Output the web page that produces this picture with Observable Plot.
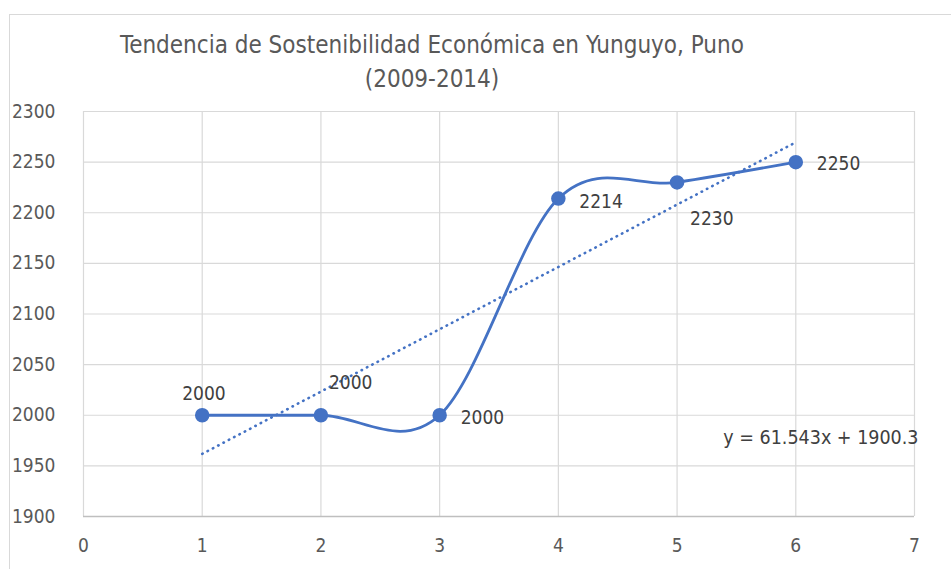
<!DOCTYPE html>
<html>
<head>
<meta charset="utf-8">
<script src="https://cdn.jsdelivr.net/npm/d3@7"></script>
<script src="https://cdn.jsdelivr.net/npm/@observablehq/plot@0.6"></script>
<style>
  html, body { margin: 0; padding: 0; background: #ffffff; }
  #wrap { position: relative; width: 951px; height: 569px; overflow: hidden; font-family: "DejaVu Sans Condensed", "DejaVu Sans", sans-serif; }
  #frame { position: absolute; left: 9px; top: 14px; width: 960px; height: 600px; border: 1px solid #d9d9d9; box-sizing: border-box; pointer-events: none; }
  #title { width: 864px; height: 90px; box-sizing: border-box; padding-top: 28px; text-align: center; color: #595959; font-size: 24px; line-height: 34px; }
  #chart svg { display: block; }
</style>
</head>
<body>
<div id="wrap">
  <div id="frame"></div>
  <div id="title"></div>
  <div id="chart"></div>
</div>
<script>
// ---- data ----
const titleLines = ["Tendencia de Sostenibilidad Económica en Yunguyo, Puno", "(2009-2014)"];
const periods = [1, 2, 3, 4, 5, 6];
const values = [2000, 2000, 2000, 2214, 2230, 2250];
const xTicks = [0, 1, 2, 3, 4, 5, 6, 7];
const yTicks = [1900, 1950, 2000, 2050, 2100, 2150, 2200, 2250, 2300];
const trendSlope = 61.543;
const trendIntercept = 1900.3;
const equationLabel = "y = 61.543x + 1900.3";

// ---- build ----
document.getElementById("title").innerHTML = titleLines.map(t => `<div>${t}</div>`).join("");

const data = periods.map((p, i) => ({x: p, y: values[i]}));
const trend = [periods[0], periods[periods.length - 1]].map(p => ({x: p, y: trendSlope * p + trendIntercept}));

const blue = "#4472C4";
const font = "'DejaVu Sans Condensed', 'DejaVu Sans', sans-serif";
const labelOffsets = [[-20, -21], [8, -32], [21, 3], [21, 3], [13, 37], [21, 2]];

const labelMarks = data.map((d, i) => Plot.text([d], {
  x: "x", y: "y", text: d => String(d.y),
  textAnchor: "start", lineAnchor: "middle",
  dx: labelOffsets[i][0], dy: labelOffsets[i][1],
  fill: "#404040", fontSize: 19
}));

const chart = Plot.plot({
  width: 951,
  height: 479,
  marginTop: 21,
  marginBottom: 53,
  marginLeft: 83,
  marginRight: 37,
  style: {fontFamily: font, background: "transparent", color: "#595959"},
  x: {domain: [0, 7]},
  y: {domain: [1900, 2300]},
  marks: [
    Plot.gridX(xTicks, {stroke: "#d9d9d9", strokeOpacity: 1, strokeWidth: 1.2}),
    Plot.gridY(yTicks, {stroke: "#d9d9d9", strokeOpacity: 1, strokeWidth: 1.2}),
    Plot.ruleY([1900], {stroke: "#bfbfbf", strokeWidth: 1.5}),
    Plot.axisX({ticks: xTicks, tickSize: 0, tickPadding: 22, tickFormat: "d", fontSize: 19, fill: "#595959", label: null}),
    Plot.axisY({ticks: yTicks, tickSize: 0, tickPadding: 28, tickFormat: "d", fontSize: 19, fill: "#595959", label: null}),
    Plot.line(trend, {x: "x", y: "y", stroke: blue, strokeWidth: 2.6, strokeDasharray: "0.5,5.5", strokeLinecap: "round"}),
    Plot.line(data, {x: "x", y: "y", curve: "cardinal", tension: 0, stroke: blue, strokeWidth: 2.8}),
    Plot.dot(data, {x: "x", y: "y", r: 6.5, fill: blue, stroke: blue}),
    ...labelMarks,
    Plot.text([equationLabel], {frameAnchor: "bottom-right", textAnchor: "end", lineAnchor: "middle", dx: 4, dy: -79, fill: "#404040", fontSize: 19.5})
  ]
});
document.getElementById("chart").appendChild(chart);
</script>
</body>
</html>
